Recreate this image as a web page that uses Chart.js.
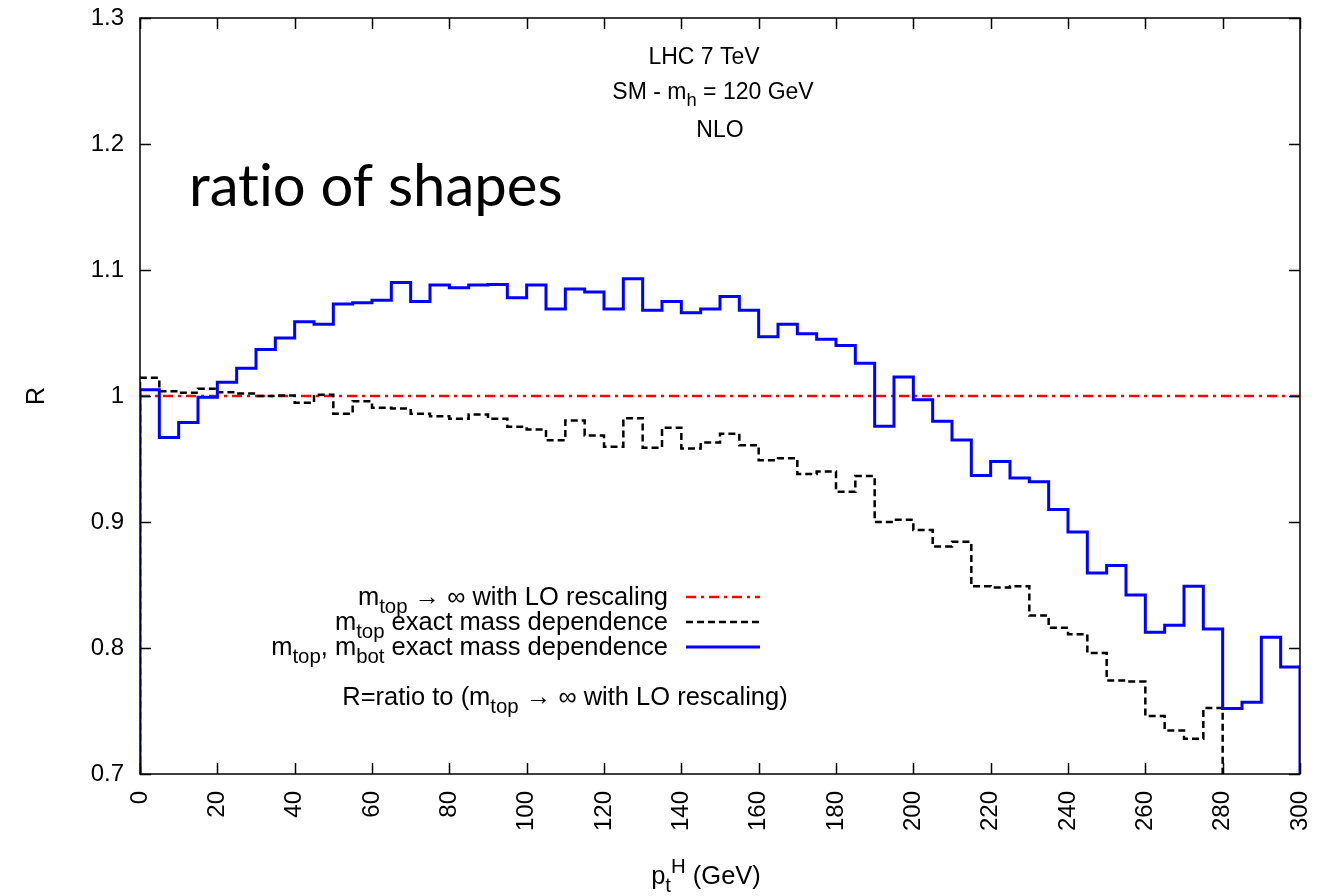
<!DOCTYPE html>
<html lang="en">
<head>
  <meta charset="UTF-8">
  <title>Ratio of shapes</title>
  <script src="https://cdn.jsdelivr.net/npm/chart.js"></script>
  <style>
    body { margin: 0; background: #fff; }
    #wrap { width: 1329px; height: 896px; }
  </style>
</head>
<body>
  <div id="wrap"><canvas id="ratioChart"></canvas></div>

  <script>
    // pt bins of 5 GeV, 0 - 300
    const binWidth = 5;
    const xMin = 0, xMax = 300, xStep = 20;
    const yMin = 0.7, yMax = 1.3, yStep = 0.1;

    // mtop -> inf with LO rescaling (reference, R = 1)
    const loRescaled = [1.0, 1.0];

    // mtop exact mass dependence (runs off the bottom after 280 GeV)
    const mTopExact = [
      1.0144, 1.0038, 1.0025, 1.0057, 1.003, 1.002, 1.0, 1.0004, 0.9946, 1.001,
      0.986, 0.9959, 0.9906, 0.990, 0.986, 0.984, 0.982, 0.9854, 0.982, 0.9756,
      0.9735, 0.9648, 0.9806, 0.9687, 0.9598, 0.9824, 0.959, 0.9748, 0.9584, 0.963,
      0.970, 0.961, 0.949, 0.9505, 0.938, 0.940, 0.924, 0.9365, 0.900, 0.9017,
      0.8937, 0.8806, 0.8843, 0.849, 0.848, 0.849, 0.8257, 0.816, 0.811, 0.796,
      0.7742, 0.7734, 0.746, 0.7346, 0.728, 0.7523
    ];

    // mtop, mbot exact mass dependence
    const mTopBotExact = [
      1.005, 0.967, 0.979, 0.999, 1.011, 1.022, 1.037, 1.046, 1.059, 1.057,
      1.073, 1.074, 1.076, 1.090, 1.075, 1.088, 1.086, 1.088, 1.0885, 1.078,
      1.088, 1.069, 1.085, 1.0825, 1.069, 1.093, 1.068, 1.075, 1.066, 1.069,
      1.079, 1.068, 1.047, 1.057, 1.0495, 1.045, 1.040, 1.026, 0.976, 1.015,
      0.997, 0.980, 0.965, 0.937, 0.948, 0.935, 0.932, 0.910, 0.892, 0.8595,
      0.8655, 0.842, 0.8125, 0.818, 0.849, 0.815, 0.752, 0.757, 0.8085, 0.785
    ];

    const FONT = '"Liberation Sans", Arial, Helvetica, sans-serif';

    // turn bin contents into a closed step outline (drops to the axis at both ends)
    function histPoints(values) {
      const pts = [{ x: 0, y: yMin }];
      values.forEach((v, i) => pts.push({ x: i * binWidth, y: v }));
      const end = values.length * binWidth;
      pts.push({ x: end, y: values[values.length - 1] });
      pts.push({ x: end, y: yMin });
      return pts;
    }

    // text with gnuplot-style sub/superscripts: parts = [[text, 'sub'|'sup'|null], ...]
    function richWidth(ctx, parts, size) {
      let w = 0;
      parts.forEach(([t, mode]) => {
        ctx.font = (mode ? size * 0.8 : size) + 'px ' + FONT;
        w += ctx.measureText(t).width;
      });
      return w;
    }
    function drawRich(ctx, parts, x, y, size, align) {
      const w = richWidth(ctx, parts, size);
      let cx = align === 'right' ? x - w : align === 'center' ? x - w / 2 : x;
      ctx.textAlign = 'left';
      ctx.textBaseline = 'alphabetic';
      parts.forEach(([t, mode]) => {
        const s = mode ? size * 0.8 : size;
        ctx.font = s + 'px ' + FONT;
        const dy = mode === 'sub' ? size * 0.3 : mode === 'sup' ? -size * 0.45 : 0;
        ctx.fillText(t, cx, y + dy);
        cx += ctx.measureText(t).width;
      });
    }

    const frameAndText = {
      id: 'frameAndText',
      afterDatasetsDraw(chart) {
        const ctx = chart.ctx;
        const a = chart.chartArea;
        const xs = chart.scales.x, ys = chart.scales.y;
        ctx.save();
        ctx.fillStyle = '#000';
        ctx.strokeStyle = '#000';

        // frame and inward ticks on all four sides
        ctx.lineWidth = 1.5;
        ctx.strokeRect(a.left, a.top, a.right - a.left, a.bottom - a.top);
        const tl = 11;
        ctx.beginPath();
        for (let v = xMin; v <= xMax; v += xStep) {
          const px = Math.round(xs.getPixelForValue(v)) + 0.5;
          ctx.moveTo(px, a.bottom); ctx.lineTo(px, a.bottom - tl);
          ctx.moveTo(px, a.top); ctx.lineTo(px, a.top + tl);
        }
        for (let v = yMin; v <= yMax + 1e-9; v += yStep) {
          const py = Math.round(ys.getPixelForValue(v)) + 0.5;
          ctx.moveTo(a.left, py); ctx.lineTo(a.left + tl, py);
          ctx.moveTo(a.right, py); ctx.lineTo(a.right - tl, py);
        }
        ctx.stroke();

        // run info
        drawRich(ctx, [['LHC 7 TeV']], 704, 64, 23, 'center');
        drawRich(ctx, [['SM - m'], ['h', 'sub'], [' = 120 GeV']], 713, 99, 23, 'center');
        drawRich(ctx, [['NLO']], 720, 137, 23, 'center');

        // big label (ZWNJ keeps "t" and "i" from fusing into a ligature)
        ctx.font = '58px Lato, "Open Sans", sans-serif';
        ctx.textAlign = 'left';
        ctx.textBaseline = 'alphabetic';
        ctx.fillText('rat\u200Cio of shapes', 189, 206);

        // legend
        const legend = [
          { parts: [['m'], ['top', 'sub'], [' \u2192 \u221e with LO rescaling']], ds: 0, y: 605 },
          { parts: [['m'], ['top', 'sub'], [' exact mass dependence']], ds: 1, y: 630 },
          { parts: [['m'], ['top', 'sub'], [', m'], ['bot', 'sub'], [' exact mass dependence']], ds: 2, y: 655 }
        ];
        legend.forEach(item => {
          ctx.fillStyle = '#000';
          drawRich(ctx, item.parts, 668, item.y, 25.5, 'right');
          const d = chart.data.datasets[item.ds];
          ctx.beginPath();
          ctx.strokeStyle = d.borderColor;
          ctx.lineWidth = d.borderWidth;
          ctx.setLineDash(d.borderDash || []);
          ctx.moveTo(686, item.y - 8);
          ctx.lineTo(760, item.y - 8);
          ctx.stroke();
          ctx.setLineDash([]);
        });
        ctx.fillStyle = '#000';
        drawRich(ctx, [['R=ratio to (m'], ['top', 'sub'], [' \u2192 \u221e with LO rescaling)']], 565, 705, 25.5, 'center');

        // axis titles
        drawRich(ctx, [['p'], ['t', 'sub'], ['H', 'sup'], [' (GeV)']], 706, 884, 25.5, 'center');
        ctx.save();
        ctx.translate(44, 396);
        ctx.rotate(-Math.PI / 2);
        drawRich(ctx, [['R']], 0, 0, 25, 'center');
        ctx.restore();

        ctx.restore();
      }
    };

    const ctx = document.getElementById('ratioChart').getContext('2d');
    new Chart(ctx, {
      type: 'line',
      data: {
        datasets: [
          {
            label: 'mtop -> inf with LO rescaling',
            data: [{ x: xMin, y: loRescaled[0] }, { x: xMax, y: loRescaled[1] }],
            borderColor: '#ff0000',
            borderWidth: 2.5,
            borderDash: [10, 5, 3, 5],
            order: 3
          },
          {
            label: 'mtop exact mass dependence',
            data: histPoints(mTopExact),
            borderColor: '#000000',
            borderWidth: 2.5,
            borderDash: [7, 4],
            stepped: 'before',
            order: 2
          },
          {
            label: 'mtop, mbot exact mass dependence',
            data: histPoints(mTopBotExact),
            borderColor: '#0000ff',
            borderWidth: 3,
            stepped: 'before',
            order: 1
          }
        ]
      },
      options: {
        responsive: true,
        maintainAspectRatio: false,
        animation: false,
        layout: { padding: { top: 18, right: 29, left: 0, bottom: 0 } },
        elements: {
          point: { radius: 0, hoverRadius: 0 },
          line: { tension: 0, fill: false, borderJoinStyle: 'miter' }
        },
        plugins: {
          legend: { display: false },
          tooltip: { enabled: false }
        },
        scales: {
          x: {
            type: 'linear',
            min: xMin,
            max: xMax,
            // fixed axis box, no extra room for overhanging labels
            afterFit: s => { s.height = 122; s.paddingLeft = 0; s.paddingRight = 0; },
            grid: { display: false, drawTicks: false },
            border: { display: false },
            ticks: {
              stepSize: xStep,
              minRotation: 90,
              maxRotation: 90,
              padding: 17,
              color: '#000',
              font: { family: FONT, size: 24 }
            }
          },
          y: {
            type: 'linear',
            min: yMin,
            max: yMax,
            afterFit: s => { s.width = 140; s.paddingTop = 0; s.paddingBottom = 0; },
            grid: { display: false, drawTicks: false },
            border: { display: false },
            ticks: {
              stepSize: yStep,
              padding: 16,
              color: '#000',
              font: { family: FONT, size: 24 },
              callback: v => (Math.abs(v - 1) < 1e-9 ? '1' : v.toFixed(1))
            }
          }
        }
      },
      plugins: [frameAndText]
    });
  </script>
</body>
</html>
